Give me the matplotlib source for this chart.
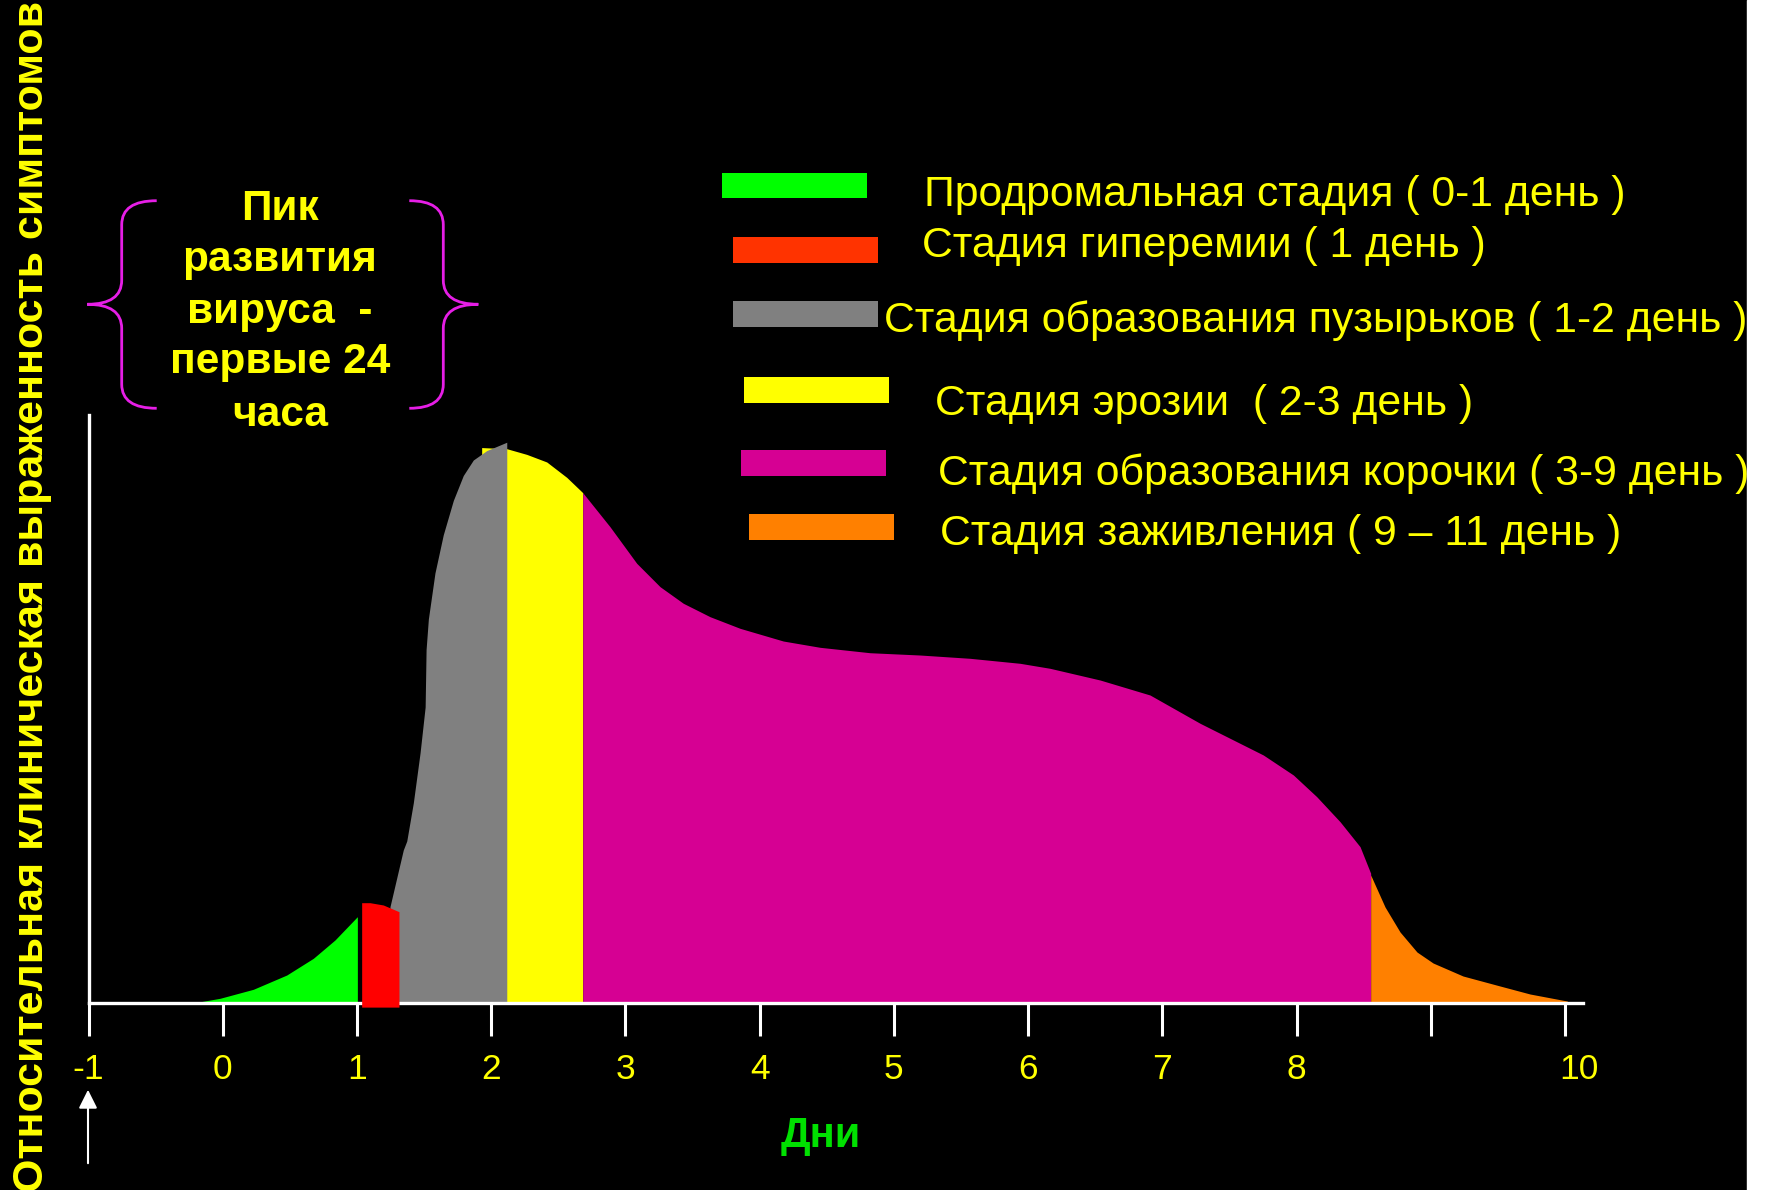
import matplotlib
matplotlib.use('Agg')
import matplotlib.pyplot as plt
from matplotlib.patches import Rectangle, PathPatch
from matplotlib.path import Path
from matplotlib.transforms import ScaledTranslation

plt.rcParams['font.family'] = ['Liberation Sans', 'DejaVu Sans']

# ---- data (days vs relative symptom level, 0..100) ----
days = [-1, 0, 1, 2, 3, 4, 5, 6, 7, 8, 9, 10]
day_labels = ['-1', '0', '1', '2', '3', '4', '5', '6', '7', '8', '', '10']

prodrome_x = [-0.219, -0.020, 0.228, 0.477, 0.675, 0.836, 1.003]
prodrome_y = [0.0, 0.8, 2.33, 4.76, 7.60, 10.71, 14.68]

hyper_x = [1.035, 1.097, 1.196, 1.313]
hyper_y = [17.06, 17.06, 16.67, 15.53]

vesicle_x = [1.246, 1.345, 1.371, 1.420, 1.470, 1.508, 1.515, 1.532, 1.581,
             1.643, 1.718, 1.792, 1.867, 1.967, 2.116]
vesicle_y = [16.38, 26.02, 27.55, 34.06, 42.52, 50.34, 60.1, 65.31, 73.13,
             79.63, 85.48, 89.71, 92.35, 93.95, 95.37]

erosion_x = [1.929, 2.116, 2.265, 2.414, 2.563, 2.682]
erosion_y = [94.46, 94.27, 93.30, 92.01, 89.39, 86.79]

crust_x = [2.682, 2.885, 3.084, 3.258, 3.431, 3.630, 3.854, 4.176, 4.450,
           4.822, 5.195, 5.567, 5.940, 6.163, 6.536, 6.908, 7.281, 7.752,
           7.976, 8.150, 8.324, 8.473, 8.552]
crust_y = [86.79, 81.00, 74.78, 70.80, 67.98, 65.70, 63.72, 61.56, 60.49,
           59.57, 59.18, 58.62, 57.77, 56.92, 54.93, 52.38, 47.57, 42.18,
           38.78, 35.09, 30.83, 26.58, 22.06]

heal_x = [8.552, 8.659, 8.771, 8.897, 9.017, 9.240, 9.516, 9.739, 10.015, 10.03]
heal_y = [21.77, 16.33, 12.07, 8.67, 6.80, 4.59, 2.89, 1.53, 0.34, 0.0]

stage_labels = ['Продромальная стадия ( 0-1 день )',
                'Стадия гиперемии ( 1 день )',
                'Стадия образования пузырьков ( 1-2 день )',
                'Стадия эрозии  ( 2-3 день )',
                'Стадия образования корочки ( 3-9 день )',
                'Стадия заживления ( 9 – 11 день )']
stage_colors = ['#00FF00', '#FF3300', '#808080', '#FFFF00', '#D60093', '#FF8000']

peak_lines = ['Пик', 'развития', 'вируса  -', 'первые 24', 'часа']

YELLOW = '#FFFF00'
W, H = 1768, 1190

fig = plt.figure(figsize=(W / 100, H / 100), dpi=100, facecolor='black')

# main plot
px_day = 134.23
ax = fig.add_axes([88.5 / W, 1 - 1003 / H, (1583 - 88.5) / W, (1003 - 415) / H])
ax.set_facecolor('none')
ax.set_xlim(-1, -1 + (1583 - 88.5) / px_day)
ax.set_ylim(0, 100)

ax.fill_between(erosion_x, erosion_y, 0, color='#FFFF00', lw=0, zorder=1)
ax.fill_between(prodrome_x, prodrome_y, 0, color='#00FF00', lw=0, zorder=1)
ax.fill_between(vesicle_x, vesicle_y, 0, color='#808080', lw=0, zorder=1.2)
ax.fill_between(crust_x, crust_y, 0, color='#D60093', lw=0, zorder=1)
ax.fill_between(heal_x, heal_y, 0, color='#FF8000', lw=0, zorder=1)
ax.fill_between(hyper_x, hyper_y, -0.7, color='#FF0000', lw=0, zorder=3,
                clip_on=False)

for s in ['top', 'right']:
    ax.spines[s].set_visible(False)
for s in ['left', 'bottom']:
    ax.spines[s].set_color('white')
    ax.spines[s].set_linewidth(2.4)
ax.set_yticks([])
ax.set_xticks(days)
ax.set_xticklabels(day_labels)
ax.tick_params(axis='x', direction='out', length=24, width=2.2, color='white',
               labelcolor=YELLOW, labelsize=25.5, pad=12)
# the "10" label sits a little right of its tick in the original
lab10 = ax.get_xticklabels()[-1]
lab10.set_transform(lab10.get_transform() +
                    ScaledTranslation(14 / 100, 0, fig.dpi_scale_trans))

# overlay in pixel coords for texts / decorations
ov = fig.add_axes([0, 0, 1, 1])
ov.set_xlim(0, W)
ov.set_ylim(H, 0)
ov.axis('off')
ov.set_facecolor('none')

# legend
swatches = [(721.8, 173.3, 866.9, 197.7), (732.7, 237.3, 877.8, 262.7),
            (732.7, 301, 877.8, 326.7), (744.3, 377.3, 888.7, 402.7),
            (741, 450, 886, 475.7), (749, 514, 894, 540)]
label_pos = [(924.5, 206), (922, 256.7), (883.5, 331.7), (935, 415),
             (938, 485), (939.5, 545)]
for (x0, y0, x1, y1), c, lab, (tx, ty) in zip(swatches, stage_colors,
                                              stage_labels, label_pos):
    ov.add_patch(Rectangle((x0, y0), x1 - x0, y1 - y0, color=c, lw=0))
    ov.text(tx, ty, lab, color=YELLOW, fontsize=30.8, ha='left', va='baseline')

# braces around the peak note
def brace(xe, xs, xt, ytop, ymid, ybot, rv=24):
    verts = [(xe, ytop), (xs, ytop), (xs, ytop + rv), (xs, ymid - rv),
             (xs, ymid), (xt, ymid), (xs, ymid), (xs, ymid + rv),
             (xs, ybot - rv), (xs, ybot), (xe, ybot)]
    codes = [Path.MOVETO, Path.CURVE3, Path.CURVE3, Path.LINETO,
             Path.CURVE3, Path.CURVE3, Path.CURVE3, Path.CURVE3,
             Path.LINETO, Path.CURVE3, Path.CURVE3]
    return PathPatch(Path(verts, codes), fill=False, ec='#E61EE6', lw=2)

ov.add_patch(brace(156.7, 121.7, 87.3, 200.7, 304.3, 408.3))
ov.add_patch(brace(409.3, 443.3, 478.3, 200.7, 304.3, 408.3))

for line, yb in zip(peak_lines, [220.5, 271.5, 322.5, 373.5, 426.5]):
    ov.text(280, yb, line, color=YELLOW, fontsize=30.5, fontweight='bold',
            ha='center', va='baseline')

# axis titles
ov.text(32, 596, 'Относительная клиническая выраженность симптомов',
        color=YELLOW, fontsize=31, fontweight='bold', rotation=90,
        ha='center', va='center')
ov.text(821, 1147, 'Дни', color='#00E000', fontsize=30, fontweight='bold',
        ha='center', va='baseline')

ov.annotate('', xy=(88, 1087), xytext=(88, 1166),
            arrowprops=dict(arrowstyle='-|>', color='white', lw=1.5,
                            mutation_scale=28))

# white strip on the right edge
fig.patches.append(Rectangle((1747 / W, 0), 21 / W, 1, color='white',
                             transform=fig.transFigure, zorder=10))

fig.savefig('out.png', dpi=100, facecolor='black')
